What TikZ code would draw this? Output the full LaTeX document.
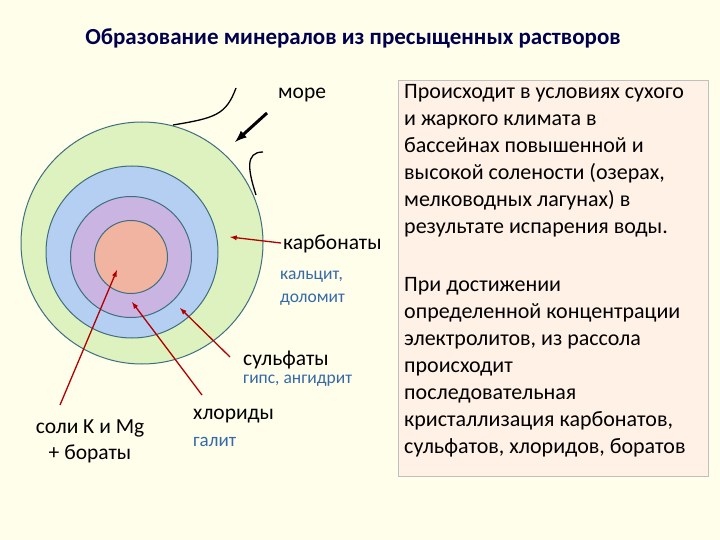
\documentclass[tikz,border=0pt]{standalone}
\usepackage{fontspec}
\setmainfont{Carlito}
\definecolor{cg}{HTML}{DDF2BE}
\definecolor{cb}{HTML}{B4CFF2}
\definecolor{cv}{HTML}{C9B4E2}
\definecolor{cs}{HTML}{F0B4A0}
\definecolor{ringc}{HTML}{3F6F7F}
\begin{document}
\begin{tikzpicture}[x=1pt,y=-1pt,
 ring/.style={draw=ringc, line width=1pt},
 rarr/.style={draw=red!70!black, line width=1.3pt, -latex},
 lbl/.style={font=\fontsize{21.5}{24}\selectfont, anchor=west, inner sep=0pt},
 sml/.style={font=\fontsize{17.5}{20}\selectfont, text=cyan!50!blue!80!black, anchor=west, inner sep=0pt}]
\path[fill=yellow!8!white] (0,0) rectangle (720,540);
\useasboundingbox (0,0) rectangle (720,540);
\node[font=\bfseries\fontsize{23}{26}\selectfont, text=blue!30!black] (title) at (353,38) {Образование минералов из пресыщенных растворов};
\node[ring, circle, minimum size=242pt, inner sep=0pt, fill=cg] (c1) at (142,243) {};
\node[ring, circle, minimum size=172pt, inner sep=0pt, fill=cb] (c2) at (132,252) {};
\node[ring, circle, minimum size=121pt, inner sep=0pt, fill=cv] (c3) at (131,257) {};
\node[ring, circle, minimum size=73pt, inner sep=0pt, fill=cs] (c4) at (131,257) {};
\coordinate (s1) at (236,88); \coordinate (s2) at (173,125);
\draw[line width=1.3pt] (s1) .. controls (226,115) and (215,118) .. (s2);
\coordinate (s3) at (263,152); \coordinate (s4) at (256,195);
\draw[line width=1.3pt] (s3) .. controls (245,152) and (248,170) .. (s4);
\coordinate (m1) at (267,113); \coordinate (m2) at (235,142);
\draw[line width=3pt, -latex] (m1) -- (m2);
\node[lbl] (sea) at (278,95) {море};
\node[lbl] (carb) at (283,244) {карбонаты};
\node[sml] (carb2) at (280,277) {кальцит,};
\node[sml] (carb3) at (280,300) {доломит};
\node[lbl] (sulf) at (243,360) {сульфаты};
\node[sml] (sulf2) at (243,381) {гипс, ангидрит};
\node[lbl] (chl) at (193,416) {хлориды};
\node[sml, font=\fontsize{19}{22}\selectfont] (chl2) at (193,442) {галит};
\node[font=\fontsize{21.5}{24}\selectfont, align=center, inner sep=0pt] (salt) at (90,441) {соли K и Mg\\[2pt]+ бораты};
\coordinate (a1) at (230,237); \coordinate (a2) at (180,308);
\coordinate (a3) at (132,302); \coordinate (a4) at (117,270);
\draw[rarr] (281,243) -- (a1);
\draw[rarr] (230,357) -- (a2);
\draw[rarr] (202,395) -- (a3);
\draw[rarr] (60,405) -- (a4);
\node[draw=gray!50, fill=red!10!orange!10!white, minimum width=310pt, minimum height=396pt, anchor=north west] (box) at (398,80) {};
\node[font=\fontsize{22}{27}\selectfont, align=left, anchor=north west, inner sep=0pt] (t1) at (404,84) {Происходит в условиях сухого\\и жаркого климата в\\бассейнах повышенной и\\высокой солености (озерах,\\мелководных лагунах) в\\результате испарения воды.};
\node[font=\fontsize{22}{27}\selectfont, align=left, anchor=north west, inner sep=0pt] (t2) at (404,277) {При достижении\\определенной концентрации\\электролитов, из рассола\\происходит\\последовательная\\кристаллизация карбонатов,\\сульфатов, хлоридов, боратов};
\end{tikzpicture}
\end{document}
